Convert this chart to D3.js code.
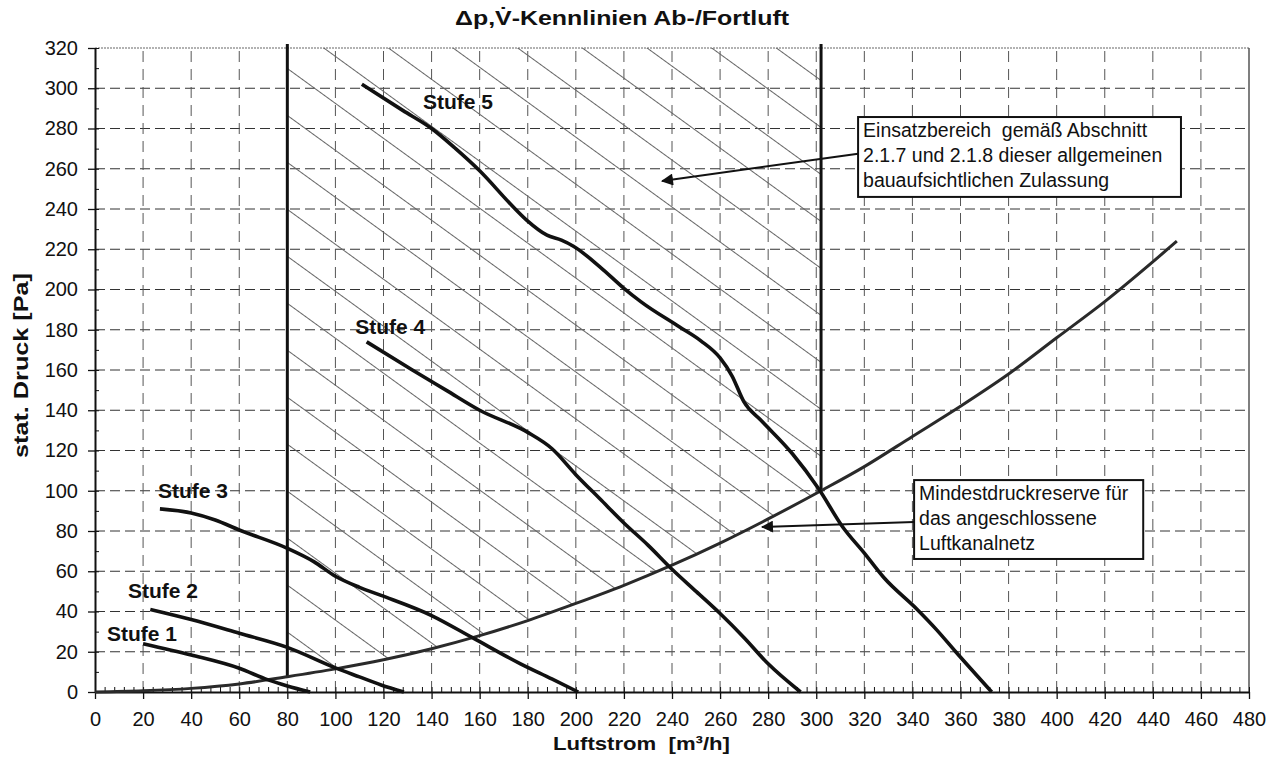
<!DOCTYPE html>
<html>
<head>
<meta charset="utf-8">
<script src="https://cdn.jsdelivr.net/npm/d3@7"></script>
<style>
  body { margin: 0; background: #fff; }
  svg text { font-family: Arial, "Liberation Sans", sans-serif; fill: #111; white-space: pre; }
</style>
</head>
<body>
<svg id="chart" width="1280" height="778"></svg>
<script>
'use strict';

// Axis ticks.
var xTicks = d3.range(0, 481, 20);
var yTicks = d3.range(0, 321, 20);
var xMinor = d3.range(0, 481, 4);
var yMinor = d3.range(0, 321, 10);

// Anlagenkennlinie (system curve), [m3/h, Pa].
var sysCurve = [[0,0],[20,0.6],[40,1.8],[60,4],[80,7.6],[100,11.5],[120,16],[140,21.5],[160,28],
	[180,35.5],[200,44],[220,53],[240,63],[260,74],[280,86],[302,100],[320,112],[340,127],
	[360,142],[380,158],[400,176],[420,194],[450,224]];

// Fan curves per step.
var stufe1 = [[20,24],[40,18.4],[60,11.8],[72,6],[80,3],[89.5,0]];
var stufe2 = [[23,41],[40,36],[60,29.2],[80,22.2],[100,12],[110,7.5],[119,3.5],[128.5,0]];
var stufe3 = [[27,91],[40,89],[50,85.5],[60,80.5],[80,71.4],[91,64.8],[100,57.5],[110,52],[119,48],
	[140,38],[157,27],[177,14],[190,6.5],[201,0]];
var stufe4 = [[113,174],[132,160],[146,150],[160,140],[180,129],[190,121],[200,108],[210,96],[220,84],
	[230,73],[240,61],[250,50],[260,39],[270,27],[280,14],[293.5,0]];
var stufe5 = [[111,302],[128,289],[140,280],[150,270],[160,259],[174,241],[180,234],[188,227],[194,224.5],
	[199,221.5],[210,211.3],[220,200.6],[227,194],[243,181.5],[252,174.5],[260,166],[265,157],[270,144],
	[277,135],[290,118.5],[301,101],[311,82],[320,69],[328,57],[342,41],[350,31],[358,20],[373,0]];

var curveNames = ['Stufe 1', 'Stufe 2', 'Stufe 3', 'Stufe 4', 'Stufe 5'];
// Label anchor (left, middle) in data units.
var labelPos = [[5,29.3],[13.7,50.7],[26.2,100.4],[108.2,181.5],[136.4,293.3]];

// Operating range limits [m3/h].
var rangeLimits = [80, 302];

var noteLines1 = ['Einsatzbereich  gemäß Abschnitt', '2.1.7 und 2.1.8 dieser allgemeinen', 'bauaufsichtlichen Zulassung'];
var noteBox1 = [317.4, 285.7, 451.7, 246];   // x0, y0, x1, y1
var noteArrow1 = [317.4, 267.5, 235.9, 253.9];
var noteLines2 = ['Mindestdruckreserve für', 'das angeschlossene', 'Luftkanalnetz'];
var noteBox2 = [340.7, 105.3, 436, 66.1];
var noteArrow2 = [340.7, 84.5, 277.5, 82];

var svg = d3.select('#chart');
var x = d3.scaleLinear().domain([0, 480]).range([95, 1249]);
var y = d3.scaleLinear().domain([0, 320]).range([692, 48]);

var defs = svg.append('defs');
defs.append('pattern')
	.attr('id', 'hatch')
	.attr('patternUnits', 'userSpaceOnUse')
	.attr('width', 20).attr('height', 38)
	.attr('patternTransform', 'rotate(36)')
	.append('line')
	.attr('x1', 0).attr('x2', 20).attr('y1', 0.5).attr('y2', 0.5)
	.attr('stroke', '#666').attr('stroke-width', 1);
defs.append('marker')
	.attr('id', 'arrow')
	.attr('viewBox', '0 0 10 10')
	.attr('refX', 9).attr('refY', 5)
	.attr('markerWidth', 7).attr('markerHeight', 6)
	.attr('markerUnits', 'strokeWidth')
	.attr('orient', 'auto')
	.append('path').attr('d', 'M0,0L10,5L0,10Z').attr('fill', '#111');

// Grid.
svg.append('g').selectAll('line').data(yTicks.filter(function(d) {return d > 0 && d < 320;}))
	.enter().append('line')
	.attr('x1', x(0)).attr('x2', x(480))
	.attr('y1', function(d) {return y(d);}).attr('y2', function(d) {return y(d);})
	.attr('stroke', '#333').attr('stroke-width', 1).attr('stroke-dasharray', '10,5');
svg.append('g').selectAll('line').data(xTicks.filter(function(d) {return d > 0 && d < 480;}))
	.enter().append('line')
	.attr('y1', y(0)).attr('y2', y(320))
	.attr('x1', function(d) {return x(d);}).attr('x2', function(d) {return x(d);})
	.attr('stroke', '#555').attr('stroke-width', 1).attr('stroke-dasharray', '11,7');

// Frame top / right.
svg.append('line').attr('x1', x(0)).attr('x2', x(480)).attr('y1', y(320)).attr('y2', y(320))
	.attr('stroke', '#666').attr('stroke-width', 1.2).attr('stroke-dasharray', '2,1');
svg.append('line').attr('x1', x(480)).attr('x2', x(480)).attr('y1', y(320)).attr('y2', y(0))
	.attr('stroke', '#555').attr('stroke-width', 1.5);

// Hatched operating range, bounded by the system curve.
var area = [[rangeLimits[0], 320]]
	.concat(sysCurve.filter(function(p) {return p[0] >= rangeLimits[0] && p[0] <= rangeLimits[1];}))
	.concat([[rangeLimits[1], 320]]);
svg.append('path')
	.attr('d', d3.line().x(function(p) {return x(p[0]);}).y(function(p) {return y(p[1]);})(area) + 'Z')
	.attr('fill', 'url(#hatch)').attr('stroke', 'none');

// Axes.
var yAxis = svg.append('g').attr('transform', 'translate(' + x(0) + ',0)')
	.call(d3.axisLeft(y).tickValues(yTicks).tickSize(7).tickSizeOuter(0).tickPadding(10));
var xAxis = svg.append('g').attr('transform', 'translate(0,' + y(0) + ')')
	.call(d3.axisBottom(x).tickValues(xTicks).tickSize(7).tickSizeOuter(0).tickPadding(13));
[yAxis, xAxis].forEach(function(g) {
	g.select('.domain').attr('stroke', '#111').attr('stroke-width', 2);
	g.selectAll('.tick line').attr('stroke', '#111').attr('stroke-width', 1.3);
	g.selectAll('.tick text').style('font-size', '20px').attr('fill', '#111');});
svg.append('g').attr('transform', 'translate(' + x(0) + ',0)')
	.call(d3.axisLeft(y).tickValues(yMinor).tickSize(-4).tickSizeOuter(0).tickFormat(''))
	.call(function(g) {g.select('.domain').remove(); g.selectAll('line').attr('stroke', '#111');});
svg.append('g').attr('transform', 'translate(0,' + y(0) + ')')
	.call(d3.axisBottom(x).tickValues(xMinor).tickSize(-5).tickSizeOuter(0).tickFormat(''))
	.call(function(g) {g.select('.domain').remove(); g.selectAll('line').attr('stroke', '#111');});

var line = d3.line()
	.x(function(p) {return x(p[0]);})
	.y(function(p) {return y(p[1]);})
	.curve(d3.curveMonotoneX);

// Range limit verticals, from system curve up past the top.
var sysAt = {};
sysCurve.forEach(function(p) {sysAt[p[0]] = p[1];});
svg.append('g').selectAll('line').data(rangeLimits).enter().append('line')
	.attr('x1', function(d) {return x(d);}).attr('x2', function(d) {return x(d);})
	.attr('y1', function(d) {return y(sysAt[d]);}).attr('y2', y(320) - 4)
	.attr('stroke', '#111').attr('stroke-width', 3);

svg.append('path').attr('d', line(sysCurve))
	.attr('fill', 'none').attr('stroke', '#2a2a2a').attr('stroke-width', 3);

svg.append('g').selectAll('path').data([stufe1, stufe2, stufe3, stufe4, stufe5]).enter()
	.append('path').attr('d', line)
	.attr('fill', 'none').attr('stroke', '#111').attr('stroke-width', 3.6)
	.attr('stroke-linejoin', 'round');

svg.append('g').selectAll('text').data(curveNames).enter().append('text')
	.attr('x', function(d, i) {return x(labelPos[i][0]);})
	.attr('y', function(d, i) {return y(labelPos[i][1]);})
	.attr('dy', '0.36em')
	.style('font-size', '21px').style('font-weight', 'bold')
	.text(function(d) {return d;});

// Annotations.
function note(box, arrow, lines) {
	svg.append('line')
		.attr('x1', x(arrow[0])).attr('y1', y(arrow[1]))
		.attr('x2', x(arrow[2])).attr('y2', y(arrow[3]))
		.attr('stroke', '#111').attr('stroke-width', 2)
		.attr('marker-end', 'url(#arrow)');
	svg.append('rect')
		.attr('x', x(box[0])).attr('y', y(box[1]))
		.attr('width', x(box[2]) - x(box[0])).attr('height', y(box[3]) - y(box[1]))
		.attr('fill', '#fff').attr('stroke', '#111').attr('stroke-width', 2);
	svg.append('g').selectAll('text').data(lines).enter().append('text')
		.attr('x', x(box[0]) + 5)
		.attr('y', function(d, i) {return y(box[1]) + 20 + i * 25;})
		.style('font-size', '19.5px')
		.text(function(d) {return d;});}
note(noteBox1, noteArrow1, noteLines1);
note(noteBox2, noteArrow2, noteLines2);

// Titles (scan is slightly wider than Arial, so stretch to measured widths).
svg.append('text')
	.attr('x', 455).attr('y', 25)
	.attr('textLength', 334).attr('lengthAdjust', 'spacingAndGlyphs')
	.style('font-size', '20px').style('font-weight', 'bold')
	.text('\u0394p,V\u0307-Kennlinien Ab-/Fortluft');
svg.append('text')
	.attr('x', 553).attr('y', 750)
	.attr('textLength', 177).attr('lengthAdjust', 'spacingAndGlyphs')
	.style('font-size', '19px').style('font-weight', 'bold')
	.text('Luftstrom  [m\u00b3/h]');
svg.append('text')
	.attr('transform', 'translate(28,458)rotate(-90)')
	.attr('textLength', 185).attr('lengthAdjust', 'spacingAndGlyphs')
	.style('font-size', '20px').style('font-weight', 'bold')
	.text('stat. Druck [Pa]');
</script>
</body>
</html>
